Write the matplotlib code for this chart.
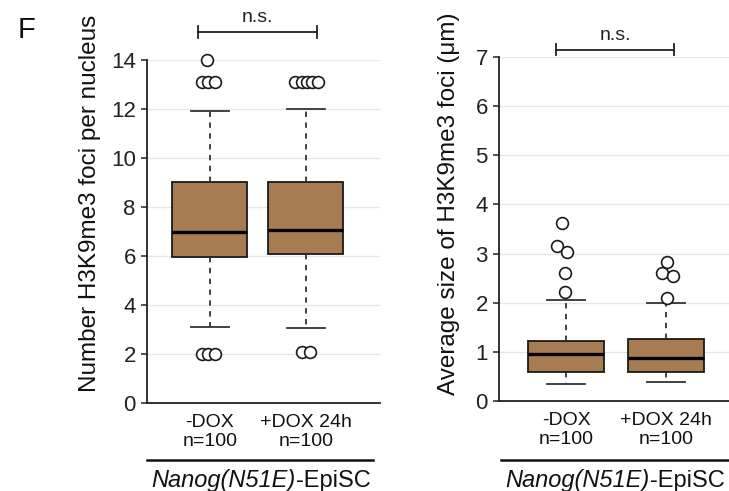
import matplotlib
matplotlib.use("Agg")
import matplotlib.pyplot as plt
from matplotlib.lines import Line2D

plt.rcParams["font.family"] = ["Liberation Sans", "DejaVu Sans"]

# ── data ───────────────────────────────────────────────────────────────────
groups = ["-DOX\nn=100", "+DOX 24h\nn=100"]

# panel 1: number of foci per nucleus
foci_q1 = [5.97, 6.08]
foci_med = [6.98, 7.05]
foci_q3 = [9.01, 9.01]
foci_lo = [3.11, 3.05]
foci_hi = [11.95, 12.0]
foci_out = [[14.0, 13.1, 13.1, 13.1, 2.0, 2.0, 2.0],
            [13.1, 13.1, 13.1, 13.1, 13.1, 2.06, 2.06]]
foci_jit = [[-0.03, -0.083, -0.02, 0.05, -0.083, -0.02, 0.05],
            [-0.115, -0.045, 0.007, 0.06, 0.125, -0.045, 0.04]]

# panel 2: average foci size (um)
size_q1 = [0.584, 0.584]
size_med = [0.95, 0.88]
size_q3 = [1.216, 1.26]
size_lo = [0.34, 0.387]
size_hi = [2.05, 1.99]
size_out = [[3.62, 3.16, 3.04, 2.60, 2.22],
            [2.82, 2.60, 2.55, 2.10]]
size_jit = [[-0.037, -0.093, 0.007, -0.01, -0.01],
            [0.007, -0.043, 0.067, 0.007]]

BOX_COLOR = "#A87C52"
INK = "#1A1A1A"


def draw_panel(ax, q1, med, q3, lo, hi, outs, jits, width):
    stats = []
    for i in range(2):
        stats.append(dict(med=med[i], q1=q1[i], q3=q3[i],
                          whislo=lo[i], whishi=hi[i], fliers=[]))
    ax.bxp(stats, positions=[1, 2], widths=width, showfliers=False,
           patch_artist=True,
           boxprops=dict(facecolor=BOX_COLOR, edgecolor=INK, linewidth=1.3),
           medianprops=dict(color="black", linewidth=2.4),
           whiskerprops=dict(color="#333333", linewidth=1.3,
                             linestyle=(0, (3, 3))),
           capprops=dict(color="#333333", linewidth=1.3),
           zorder=3)
    for i in range(2):
        xs = [i + 1 + j for j in jits[i]]
        ax.plot(xs, outs[i], "o", ms=8.5, mfc="white", mec=INK,
                mew=1.2, ls="none", zorder=4, clip_on=False)

    ax.yaxis.grid(True, color="#E6E6E6", linewidth=1.0)
    ax.set_axisbelow(True)
    for s in ("top", "right"):
        ax.spines[s].set_visible(False)
    for s in ("left", "bottom"):
        ax.spines[s].set_color("#222222")
        ax.spines[s].set_linewidth(1.3)
    ax.tick_params(axis="y", labelsize=16, colors="#222222", length=4,
                   width=1.1, pad=4)
    ax.tick_params(axis="x", length=0, labelsize=14, labelcolor="#111111",
                   pad=8)
    ax.set_xticks([1, 2])
    ax.set_xticklabels(groups, linespacing=1.15)


def bracket(ax, x0, x1, y, h, ty):
    ax.plot([x0, x1], [y, y], color="#222222", lw=1.3, clip_on=False)
    for x in (x0, x1):
        ax.plot([x, x], [y - h, y + h], color="#222222", lw=1.3,
                clip_on=False)
    ax.text((x0 + x1) / 2, ty, "n.s.", ha="center", va="center",
            fontsize=14, color="#222222")


def cell_label(fig, xc, y):
    # italic gene name followed by regular suffix, centred as one string
    r = fig.canvas.get_renderer()
    t1 = fig.text(0, y, "Nanog(N51E)", style="italic", fontsize=17,
                  ha="left", va="center", color="#111111")
    t2 = fig.text(0, y, "-EpiSC", fontsize=17, ha="left", va="center",
                  color="#111111")
    w1 = t1.get_window_extent(r).width / fig.bbox.width
    w2 = t2.get_window_extent(r).width / fig.bbox.width
    x0 = xc - (w1 + w2) / 2
    t1.set_x(x0)
    t2.set_x(x0 + w1)


fig = plt.figure(figsize=(7.29, 4.91), dpi=100)
fig.patch.set_facecolor("white")

ax1 = fig.add_axes([0.2016, 0.1798, 0.3197, 0.6972])
draw_panel(ax1, foci_q1, foci_med, foci_q3, foci_lo, foci_hi,
           foci_out, foci_jit, 0.78)
ax1.set_xlim(0.347, 2.77)
ax1.set_ylim(0, 14)
ax1.set_yticks(range(0, 15, 2))
ax1.set_ylabel("Number H3K9me3 foci per nucleus", fontsize=17.5,
               color="#111111")
ax1.yaxis.set_label_coords(-0.198, 0.583)
bracket(ax1, 0.877, 2.114, 15.16, 0.25, 15.75)

ax2 = fig.add_axes([0.6845, 0.1833, 0.3155, 0.7007])
draw_panel(ax2, size_q1, size_med, size_q3, size_lo, size_hi,
           size_out, size_jit, 0.76)
ax2.set_xlim(0.33, 2.63)
ax2.set_ylim(0, 7)
ax2.set_yticks(range(0, 8))
ax2.set_ylabel("Average size of H3K9me3 foci (μm)", fontsize=17.5,
               color="#111111")
ax2.yaxis.set_label_coords(-0.171, 0.573)
bracket(ax2, 0.9, 2.08, 7.15, 0.12, 7.43)

# cell-line underline + label
for x0, x1, xc in [(147, 373, 261), (501, 728, 615)]:
    fig.add_artist(Line2D([x0 / 729, x1 / 729], [1 - 460 / 491] * 2,
                          color="#111111", lw=1.8))
    cell_label(fig, xc / 729, 1 - 481 / 491)

fig.text(18 / 729, 1 - 30 / 491, "F", ha="left", va="center",
         fontsize=21, color="#111111")

fig.savefig("out.png", dpi=100, facecolor="white")
